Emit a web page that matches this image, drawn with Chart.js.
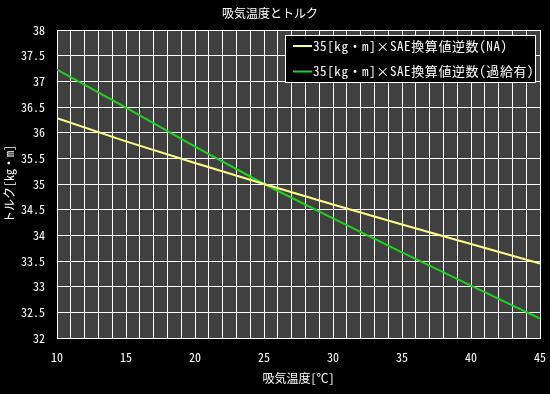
<!DOCTYPE html>
<html>
<head>
<meta charset="utf-8">
<script src="https://cdn.jsdelivr.net/npm/chart.js@4/dist/chart.umd.min.js"></script>
<style>
  html, body { margin: 0; padding: 0; background: #000; }
  #wrap { width: 550px; height: 394px; }
</style>
</head>
<body>
<div id="wrap"><canvas id="torqueChart"></canvas></div>
<script>
const temps = [10, 15, 20, 25, 30, 35, 40, 45];
const torqueNA = [36.28, 35.83, 35.41, 35.0, 34.6, 34.21, 33.83, 33.45];
const torqueTurbo = [37.23, 36.49, 35.73, 35.0, 34.33, 33.67, 33.02, 32.38];
const seriesNames = ["35[kg・m]×SAE換算値逆数(NA)", "35[kg・m]×SAE換算値逆数(過給有)"];
const seriesColors = ["#ffff88", "#1ed21e"];

const FONT = "'Noto Sans Mono CJK JP', 'Noto Sans CJK JP', 'DejaVu Sans Mono', monospace";

document.addEventListener("DOMContentLoaded", function () {
    const ctx = document.getElementById("torqueChart").getContext("2d");

    // black canvas, grey plot area
    const backdrop = {
        id: "backdrop",
        beforeDraw(chart) {
            const c = chart.ctx;
            const a = chart.chartArea;
            c.save();
            c.fillStyle = "#000";
            c.fillRect(0, 0, chart.width, chart.height);
            c.fillStyle = "#404040";
            c.fillRect(a.left, a.top, a.right - a.left, a.bottom - a.top);
            c.restore();
        }
    };

    // boxed legend inside the plot, top right
    const boxLegend = {
        id: "boxLegend",
        afterDatasetsDraw(chart) {
            const c = chart.ctx;
            const a = chart.chartArea;
            const left = a.right - 255, top = a.top + 5;
            c.save();
            c.fillStyle = "#000";
            c.fillRect(left, top, 250, 47);
            c.strokeStyle = "#fff";
            c.lineWidth = 1;
            c.strokeRect(left + 0.5, top + 0.5, 250, 47);
            c.font = "13px " + FONT;
            c.letterSpacing = "0.6px";
            c.textBaseline = "middle";
            chart.data.datasets.forEach((ds, i) => {
                const y = top + 11 + i * 25.5;
                c.strokeStyle = ds.borderColor;
                c.lineWidth = 2;
                c.beginPath();
                c.moveTo(left + 8, y);
                c.lineTo(left + 27, y);
                c.stroke();
                c.fillStyle = "#fff";
                c.fillText(ds.label, left + 28, y);
            });
            c.restore();
        }
    };

    new Chart(ctx, {
        type: "line",
        data: {
            datasets: [
                { label: seriesNames[0], data: temps.map((t, i) => ({ x: t, y: torqueNA[i] })), borderColor: seriesColors[0], borderWidth: 2, pointRadius: 0 },
                { label: seriesNames[1], data: temps.map((t, i) => ({ x: t, y: torqueTurbo[i] })), borderColor: seriesColors[1], borderWidth: 2, pointRadius: 0 }
            ]
        },
        options: {
            responsive: true,
            maintainAspectRatio: false,
            animation: false,
            layout: { padding: { left: 0, right: 10, top: 0, bottom: 0 } },
            plugins: {
                legend: { display: false },
                tooltip: { enabled: false },
                title: {
                    display: true,
                    text: "吸気温度とトルク",
                    color: "#fff",
                    font: { family: FONT, size: 12, weight: "normal" },
                    padding: { top: 6, bottom: 9.6 }
                }
            },
            scales: {
                x: {
                    type: "linear",
                    min: 10,
                    max: 45,
                    afterFit: s => { s.height = 56; s.paddingLeft = 0; s.paddingRight = 0; },
                    grid: { color: "#fff", lineWidth: 1, drawTicks: false },
                    border: { color: "#fff" },
                    ticks: {
                        stepSize: 1,
                        color: "#fff",
                        padding: 12,
                        maxRotation: 0,
                        autoSkip: false,
                        font: { family: FONT, size: 12 },
                        callback: v => (v % 5 === 0 ? v : "")
                    },
                    title: {
                        display: true,
                        text: "吸気温度[℃]",
                        color: "#fff",
                        font: { family: FONT, size: 12 },
                        padding: { top: 4, bottom: 8 }
                    }
                },
                y: {
                    min: 32,
                    max: 38,
                    afterFit: s => { s.width = 57; s.paddingTop = 0; s.paddingBottom = 0; },
                    grid: { color: "#fff", lineWidth: 1, drawTicks: false },
                    border: { color: "#fff" },
                    ticks: {
                        stepSize: 0.5,
                        color: "#fff",
                        padding: 12,
                        font: { family: FONT, size: 12 },
                        callback: v => String(Math.round(v * 10) / 10)
                    },
                    title: {
                        display: true,
                        text: "トルク[kg・m]",
                        color: "#fff",
                        font: { family: FONT, size: 12 },
                        padding: { top: 2, bottom: 0 }
                    }
                }
            }
        },
        plugins: [backdrop, boxLegend]
    });
});
</script>
</body>
</html>
